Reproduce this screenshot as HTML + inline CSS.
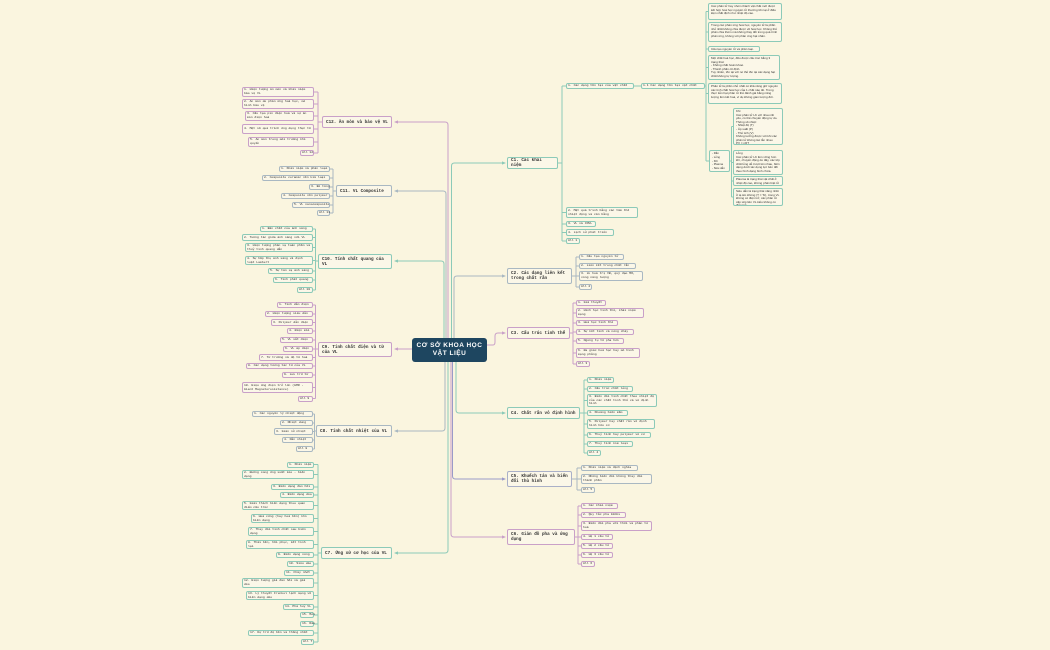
<!DOCTYPE html>
<html><head><meta charset="utf-8">
<style>
html,body{margin:0;padding:0;}
body{width:1050px;height:650px;background:#faf5df;position:relative;overflow:hidden;font-family:"Liberation Mono","DejaVu Sans Mono",monospace;color:#333;}
.n{position:absolute;box-sizing:border-box;border:1px solid #a9b8c2;border-radius:2px;background:#fbf7e8;font-size:3.1px;line-height:3.7px;padding:0 1px;overflow:visible;display:flex;align-items:center;white-space:nowrap;}
.n.w{white-space:normal;overflow:hidden;}
.c{position:absolute;box-sizing:border-box;border:1.5px solid #a9b8c2;border-radius:2px;background:#fbf7e8;font-size:4.3px;line-height:5px;padding:0 3px;font-weight:bold;overflow:hidden;display:flex;align-items:center;}
.t{border-color:#8ccab8}.p{border-color:#c9a0c8}.g{border-color:#a9b8c2}.v{border-color:#aab0c8}
.d{position:absolute;box-sizing:border-box;border:1px solid #8ccab8;border-radius:2px;background:#fbf7e8;font-family:"Liberation Sans",sans-serif;font-size:3px;line-height:3.6px;padding:1px 2px;overflow:hidden;}
#center{position:absolute;left:412px;top:338px;width:75px;height:24px;background:#1e4660;border-radius:3px;color:#fff;font-family:"Liberation Sans",sans-serif;font-weight:bold;font-size:6.5px;line-height:8px;text-align:center;padding-top:4px;box-sizing:border-box;letter-spacing:0.5px;}
svg{position:absolute;left:0;top:0;}
</style></head><body>
<svg width="1050" height="650" fill="none" stroke-width="1">
<g stroke="#c9a0c8"><path d="M448 338 V125 Q448 122 445 122 H397"/></g>
<g stroke="#a9b8c2"><path d="M446 338 V194 Q446 191 443 191 H397"/></g>
<g stroke="#8ccab8"><path d="M444 338 V264 Q444 261 441 261 H397"/></g>
<g stroke="#c9a0c8"><path d="M412 349 H397"/></g>
<g stroke="#a9b8c2"><path d="M445 362 V428 Q445 431 442 431 H397"/></g>
<g stroke="#8ccab8"><path d="M448 362 V550 Q448 553 445 553 H397"/></g>
<g stroke="#8ccab8"><path d="M451.5 338 V166 Q451.5 163 454.5 163 H502"/></g>
<g stroke="#a9b8c2"><path d="M454 338 V279 Q454 276 457 276 H502"/></g>
<g stroke="#c9a0c8"><path d="M487 345 H493 Q495 345 495 342 V336 Q495 333 498 333 H502"/></g>
<g stroke="#8ccab8"><path d="M456 362 V410 Q456 413 459 413 H502"/></g>
<g stroke="#9a9ac8"><path d="M452.5 362 V476 Q452.5 479 455.5 479 H502"/></g>
<g stroke="#c9a0c8"><path d="M451 362 V534 Q451 537 454 537 H502"/></g>
<g stroke="none">
<path d="M394 122 l4 -1.6 v3.2z" fill="#c9a0c8"/>
<path d="M394 191 l4 -1.6 v3.2z" fill="#a9b8c2"/>
<path d="M394 261 l4 -1.6 v3.2z" fill="#8ccab8"/>
<path d="M394 349 l4 -1.6 v3.2z" fill="#c9a0c8"/>
<path d="M394 431 l4 -1.6 v3.2z" fill="#a9b8c2"/>
<path d="M394 553 l4 -1.6 v3.2z" fill="#8ccab8"/>
<path d="M506 163 l-4 -1.6 v3.2z" fill="#8ccab8"/>
<path d="M506 276 l-4 -1.6 v3.2z" fill="#a9b8c2"/>
<path d="M506 333 l-4 -1.6 v3.2z" fill="#c9a0c8"/>
<path d="M506 413 l-4 -1.6 v3.2z" fill="#8ccab8"/>
<path d="M506 479 l-4 -1.6 v3.2z" fill="#9a9ac8"/>
<path d="M506 537 l-4 -1.6 v3.2z" fill="#c9a0c8"/>
</g>
<g stroke="#c9a0c8"><path d="M322 122 H318 M318 92 V153 M318 92 H314 M318 104 H314 M318 116 H314 M318 129 H314 M318 142 H314 M318 153 H314"/></g>
<g stroke="#a9b8c2"><path d="M336 191 H333 M333 169 V213 M333 169 H330 M333 178 H330 M333 187 H330 M333 196 H330 M333 205 H330 M333 213 H330"/></g>
<g stroke="#8ccab8"><path d="M318 261 H315.5 M315.5 229 V290 M315.5 229 H313 M315.5 237.5 H313 M315.5 247.5 H313 M315.5 260.5 H313 M315.5 271 H313 M315.5 280 H313 M315.5 290 H313"/></g>
<g stroke="#c9a0c8"><path d="M318 349 H315.5 M315.5 305 V398.5 M315.5 305 H313 M315.5 314 H313 M315.5 322.5 H313 M315.5 331 H313 M315.5 340 H313 M315.5 349 H313 M315.5 357.5 H313 M315.5 366 H313 M315.5 375 H313 M315.5 387.5 H313 M315.5 398.5 H313"/></g>
<g stroke="#a9b8c2"><path d="M316 431 H314.5 M314.5 414 V449 M314.5 414 H313 M314.5 423 H313 M314.5 431.5 H313 M314.5 440 H313 M314.5 449 H313"/></g>
<g stroke="#8ccab8"><path d="M321 553 H318 M318 464.5 V642 M318 464.5 H314 M318 474.5 H314 M318 487 H314 M318 495 H314 M318 505.5 H314 M318 518.5 H314 M318 531.5 H314 M318 544.5 H314 M318 555 H314 M318 564 H314 M318 573 H314 M318 583 H314 M318 595.5 H314 M318 607 H314 M318 615 H314 M318 624 H314 M318 633 H314 M318 642 H314"/></g>
<g stroke="#8ccab8"><path d="M558 163 H562 M562 86 V241 M562 86 H566 M562 212.5 H566 M562 224 H566 M562 232.5 H566 M562 241 H566 M634 86 H641 M705 86 H706 M706 11.5 V161 M706 11.5 H708 M706 32 H708 M706 49 H708 M706 67.5 H708 M706 93.5 H708 M706 161 H709 M730 161 H731.5 M731.5 126.5 V197 M731.5 126.5 H733 M731.5 162.5 H733 M731.5 181 H733 M731.5 197 H733"/></g>
<g stroke="#a9b8c2"><path d="M572 276 H576 M576 257 V287 M576 257 H579 M576 266 H579 M576 276 H579 M576 287 H579"/></g>
<g stroke="#c9a0c8"><path d="M570 333 H573 M573 303 V364 M573 303 H576 M573 313 H576 M573 323 H576 M573 332 H576 M573 341 H576 M573 353 H576 M573 364 H576"/></g>
<g stroke="#8ccab8"><path d="M580 413 H584 M584 380 V453 M584 380 H587 M584 389 H587 M584 400.5 H587 M584 413 H587 M584 424 H587 M584 435 H587 M584 444 H587 M584 453 H587"/></g>
<g stroke="#a9b8c2"><path d="M572 479 H577 M577 468 V490 M577 468 H581 M577 479 H581 M577 490 H581"/></g>
<g stroke="#c9a0c8"><path d="M575 537 H578 M578 506 V564 M578 506 H581 M578 515 H581 M578 526 H581 M578 537 H581 M578 546 H581 M578 555 H581 M578 564 H581"/></g>
</svg>

<div id="center">CƠ SỞ KHOA HỌC<br>VẬT LIỆU</div>

<div class="c p" style="left:322px;top:116px;width:70px;height:12px;">C12. Ăn mòn và bảo vệ VL</div>
<div class="c g" style="left:336px;top:185px;width:56px;height:12px;">C11. VL Composite</div>
<div class="c t" style="left:318px;top:254px;width:74px;height:15px;">C10. Tính chất quang của VL</div>
<div class="c p" style="left:318px;top:342px;width:74px;height:15px;">C9. Tính chất điện và từ của VL</div>
<div class="c g" style="left:316px;top:425px;width:76px;height:12px;">C8. Tính chất nhiệt của VL</div>
<div class="c t" style="left:321px;top:547px;width:71px;height:12px;">C7. Ứng xử cơ học của VL</div>

<div class="n p w" style="left:242px;top:87px;width:72px;height:10px;">1. Hiện tượng ăn mòn và khái niệm bảo vệ VL</div>
<div class="n p w" style="left:242px;top:99px;width:72px;height:10px;">2. Ăn mòn do phản ứng hoá học, mô hình bảo vệ</div>
<div class="n p w" style="left:245px;top:111px;width:69px;height:10px;">3. Cấu tạo pin điện hoá và sự ăn mòn điện hoá</div>
<div class="n p w" style="left:242px;top:124px;width:72px;height:10px;">4. Một số quá trình ứng dụng thực tế</div>
<div class="n p w" style="left:248px;top:137px;width:66px;height:10px;">5. Ăn mòn trong môi trường khí quyển</div>
<div class="n p" style="left:300px;top:150px;width:14px;height:6px;">All 12</div>
<div class="n g" style="left:279px;top:166px;width:51px;height:6px;">1. Khái niệm và phân loại</div>
<div class="n g" style="left:262px;top:175px;width:68px;height:6px;">2. Composite ceramic nền kim loại</div>
<div class="n g" style="left:309px;top:184px;width:21px;height:6px;">3. Bê tông</div>
<div class="n g" style="left:281px;top:193px;width:49px;height:6px;">4. Composite nền polymer</div>
<div class="n g" style="left:292px;top:202px;width:38px;height:6px;">5. VL nanocomposite</div>
<div class="n g" style="left:317px;top:210px;width:13px;height:6px;">All 11</div>
<div class="n t" style="left:260px;top:226px;width:53px;height:6px;">1. Bản chất của ánh sáng</div>
<div class="n t" style="left:242px;top:234px;width:71px;height:7px;">2. Tương tác giữa ánh sáng với VL</div>
<div class="n t w" style="left:245px;top:243px;width:68px;height:9px;">3. Hiện tượng phản xạ toàn phần và thuỷ tinh quang dẫn</div>
<div class="n t w" style="left:245px;top:256px;width:68px;height:9px;">4. Sự hấp thụ ánh sáng và định luật Lambert</div>
<div class="n t" style="left:268px;top:268px;width:45px;height:6px;">5. Sự tán xạ ánh sáng</div>
<div class="n t" style="left:273px;top:277px;width:40px;height:6px;">6. Tính phát quang</div>
<div class="n t" style="left:297px;top:287px;width:16px;height:6px;">All 10</div>
<div class="n p" style="left:277px;top:302px;width:36px;height:6px;">1. Tính dẫn điện</div>
<div class="n p" style="left:265px;top:311px;width:48px;height:6px;">2. Hiện tượng siêu dẫn</div>
<div class="n p" style="left:271px;top:319px;width:42px;height:7px;">3. Polymer dẫn điện</div>
<div class="n p" style="left:287px;top:328px;width:26px;height:6px;">4. Điện môi</div>
<div class="n p" style="left:280px;top:337px;width:33px;height:6px;">5. VL sắt điện</div>
<div class="n p" style="left:283px;top:346px;width:30px;height:6px;">6. VL áp điện</div>
<div class="n p" style="left:259px;top:354px;width:54px;height:7px;">7. Từ trường và độ từ hoá</div>
<div class="n p" style="left:246px;top:363px;width:67px;height:6px;">8. Các dạng tương tác từ của VL</div>
<div class="n p" style="left:282px;top:372px;width:31px;height:6px;">9. Lưu trữ từ</div>
<div class="n p w" style="left:242px;top:382px;width:71px;height:11px;">10. Hiệu ứng điện trở lớn (GMR - Giant Magnetoresistance)</div>
<div class="n p" style="left:298px;top:396px;width:15px;height:6px;">All 9</div>
<div class="n g" style="left:252px;top:411px;width:61px;height:6px;">1. Các nguyên lý nhiệt động</div>
<div class="n g" style="left:280px;top:420px;width:33px;height:6px;">2. Nhiệt dung</div>
<div class="n g" style="left:274px;top:428px;width:39px;height:7px;">3. Giãn nở nhiệt</div>
<div class="n g" style="left:282px;top:437px;width:31px;height:6px;">4. Dẫn nhiệt</div>
<div class="n g" style="left:296px;top:446px;width:17px;height:6px;">All 8</div>
<div class="n t" style="left:287px;top:462px;width:27px;height:6px;">1. Khái niệm</div>
<div class="n t w" style="left:242px;top:470px;width:72px;height:9px;">2. Đường cong ứng suất kéo - biến dạng</div>
<div class="n t" style="left:271px;top:484px;width:43px;height:6px;">3. Biến dạng đàn hồi</div>
<div class="n t" style="left:280px;top:492px;width:34px;height:6px;">4. Biến dạng dẻo</div>
<div class="n t w" style="left:242px;top:501px;width:72px;height:9px;">5. Giải thích biến dạng theo quan điểm cấu trúc</div>
<div class="n t w" style="left:251px;top:514px;width:63px;height:9px;">6. Hoá cứng (hay hoá bền) khi biến dạng</div>
<div class="n t w" style="left:248px;top:527px;width:66px;height:9px;">7. Thay đổi tính chất sau biến dạng</div>
<div class="n t w" style="left:246px;top:540px;width:68px;height:9px;">8. Thải bền, hồi phục, kết tinh lại</div>
<div class="n t" style="left:276px;top:552px;width:38px;height:6px;">9. Biến dạng nóng</div>
<div class="n t" style="left:287px;top:561px;width:27px;height:6px;">10. Siêu dẻo</div>
<div class="n t" style="left:284px;top:570px;width:30px;height:6px;">11. Chảy nhớt</div>
<div class="n t w" style="left:242px;top:578px;width:72px;height:10px;">12. Hiện tượng giả đàn hồi và giả dẻo</div>
<div class="n t w" style="left:246px;top:591px;width:68px;height:9px;">13. Lý thuyết Frenkel lệch mạng về biến dạng dẻo</div>
<div class="n t" style="left:283px;top:604px;width:31px;height:6px;">14. Phá huỷ VL</div>
<div class="n t" style="left:300px;top:612px;width:14px;height:6px;">15. Mỏi</div>
<div class="n t" style="left:300px;top:621px;width:14px;height:6px;">16. Rão</div>
<div class="n t" style="left:248px;top:630px;width:66px;height:6px;">17. Dự trữ độ bền và thống nhất</div>
<div class="n t" style="left:301px;top:639px;width:13px;height:6px;">All 7</div>

<div class="c t" style="left:507px;top:157px;width:51px;height:12px;">C1. Các khái niệm</div>
<div class="c g" style="left:507px;top:268px;width:65px;height:16px;">C2. Các dạng liên kết trong chất rắn</div>
<div class="c p" style="left:507px;top:327px;width:63px;height:12px;">C3. Cấu trúc tinh thể</div>
<div class="c t" style="left:507px;top:407px;width:73px;height:12px;">C4. Chất rắn vô định hình</div>
<div class="c v" style="left:507px;top:471px;width:65px;height:16px;">C5. Khuếch tán và biến đổi thù hình</div>
<div class="c p" style="left:507px;top:529px;width:68px;height:16px;">C6. Giản đồ pha và ứng dụng</div>

<div class="n t" style="left:566px;top:83px;width:68px;height:6px;">1. Các dạng tồn tại của vật chất</div>
<div class="n t" style="left:641px;top:83px;width:64px;height:6px;">1.1 Các dạng tồn tại vật chất</div>
<div class="n t w" style="left:566px;top:207px;width:72px;height:11px;">2. Mật quá trình bằng các tâm thế nhiệt động và cân bằng</div>
<div class="n t" style="left:566px;top:221px;width:30px;height:6px;">3. VL và CNVL</div>
<div class="n t" style="left:566px;top:229px;width:48px;height:7px;">4. Lịch sử phát triển</div>
<div class="n t" style="left:566px;top:238px;width:14px;height:6px;">All 1</div>
<div class="d" style="left:708px;top:3px;width:74px;height:17px;">Các phân tử hay nhóm thành vật chất mới được kết hợp hoá học nguyên tử thường tồn tại ở điều kiện nhất định như nhiệt độ cao.</div>
<div class="d" style="left:708px;top:22px;width:74px;height:20px;">Trong các phản ứng hoá học, nguyên tử là phần nhỏ nhất không chia được về hoá học. Không thể phân chia thêm mà không thay đổi trong quá trình phản ứng, không với phân ứng hạt nhân.</div>
<div class="d" style="left:708px;top:46px;width:52px;height:6px;">Cấu tạo nguyên tử và phân loại.</div>
<div class="d" style="left:708px;top:55px;width:72px;height:25px;">Một chất hoá học, đều được cấu trúc bằng 3 trạng thái:<br>- Không nhất hoàn khoẻ.<br>- Thành phần cố định.<br>Tuy nhiên, tồn tại với nó thể tồn tại các dạng hạt chất không tự lượng.</div>
<div class="d" style="left:708px;top:83px;width:74px;height:21px;">Phân tử là phần nhỏ nhất có khả năng giữ nguyên các tính chất hoá học của 1 chất nào đó. Trong thực tiễn hạt phân tử thể đánh giá bằng năng lượng liên kết hoá, ví dụ không gian lượng đơi.</div>
<div class="d" style="left:709px;top:150px;width:21px;height:22px;font-size:2.8px;line-height:3.8px;">- Rắn<br>- Lỏng<br>- Khí<br>- Plasma<br>- Siêu dẫn</div>
<div class="d" style="left:733px;top:108px;width:50px;height:37px;">Khí<br>Các phân tử LK với nhau rất yếu, có thể chuyển động tự do. Thông số nhiệt:<br>- Nhiệt độ (T)<br>- Áp suất (P)<br>- Thể tích (V)<br>Không tưởng được với khí các phân tử không tác lẫn nhau<br>PV = nRT</div>
<div class="d" style="left:733px;top:150px;width:50px;height:25px;">Lỏng<br>Các phân tử LK liên vững hơn khí, chuyển động do đây, các lớp chất lỏng dễ trượt lên nhau, biến dạng dưới tác dụng lực bên đối theo hình dạng bình chứa.</div>
<div class="d" style="left:733px;top:176px;width:50px;height:10px;">Plasma là trạng thái vật chất ở nhiệt độ cao, không phân biệt tử thông thường.</div>
<div class="d" style="left:733px;top:188px;width:50px;height:18px;">Siêu dẫn là trạng thái năng nhất ở tạ âm không (T = Tc), trong VL không có điện trở, các phân tử cặp xếp liên VL kiểu không có điện trở.</div>
<div class="n g" style="left:579px;top:254px;width:45px;height:6px;">1. Cấu tạo nguyên tử</div>
<div class="n g" style="left:579px;top:263px;width:57px;height:6px;">2. Liên kết trong chất rắn</div>
<div class="n g w" style="left:579px;top:271px;width:64px;height:10px;">3. Lk hoá trị VB, quỹ đạo MO, vùng năng lượng</div>
<div class="n g" style="left:579px;top:284px;width:13px;height:6px;">All 2</div>
<div class="n p" style="left:576px;top:300px;width:30px;height:6px;">1. Giả thuyết</div>
<div class="n p w" style="left:576px;top:308px;width:68px;height:10px;">2. Hình học tinh thể, khái niệm mạng</div>
<div class="n p" style="left:576px;top:320px;width:42px;height:6px;">3. Hoá học tinh thể</div>
<div class="n p" style="left:576px;top:329px;width:58px;height:6px;">4. Sự kết tinh và nóng chảy</div>
<div class="n p" style="left:576px;top:338px;width:48px;height:6px;">5. Ngưng tụ từ pha hơi</div>
<div class="n p w" style="left:576px;top:348px;width:64px;height:10px;">6. Đa giác hoá học hay mô hình mạng phẳng</div>
<div class="n p" style="left:576px;top:361px;width:14px;height:6px;">All 3</div>
<div class="n t" style="left:587px;top:377px;width:27px;height:6px;">1. Khái niệm</div>
<div class="n t" style="left:587px;top:386px;width:46px;height:6px;">2. Cấu trúc chất lỏng</div>
<div class="n t w" style="left:587px;top:394px;width:70px;height:13px;">3. Biến đổi tính chất theo nhiệt độ của các chất tinh thể và vô định hình</div>
<div class="n t" style="left:587px;top:410px;width:41px;height:6px;">4. Khoảng biến mềm</div>
<div class="n t w" style="left:587px;top:419px;width:68px;height:10px;">5. Polymer hay chất rắn vô định hình hữu cơ</div>
<div class="n t" style="left:587px;top:432px;width:64px;height:6px;">6. Thuỷ tinh hay polymer vô cơ</div>
<div class="n t" style="left:587px;top:441px;width:46px;height:6px;">7. Thuỷ tinh kim loại</div>
<div class="n t" style="left:587px;top:450px;width:14px;height:6px;">All 4</div>
<div class="n g" style="left:581px;top:465px;width:57px;height:6px;">1. Khái niệm và định nghĩa</div>
<div class="n g w" style="left:581px;top:474px;width:71px;height:10px;">2. Những biến đổi không thay đổi thành phần</div>
<div class="n g" style="left:581px;top:487px;width:14px;height:6px;">All 5</div>
<div class="n p" style="left:581px;top:503px;width:37px;height:6px;">1. Các khái niệm</div>
<div class="n p" style="left:581px;top:512px;width:45px;height:6px;">2. Quy tắc pha Gibbs</div>
<div class="n p w" style="left:581px;top:521px;width:71px;height:10px;">3. Biến đổi pha với thời và phân tử hoá</div>
<div class="n p" style="left:581px;top:534px;width:32px;height:6px;">4. Hệ 1 cấu tử</div>
<div class="n p" style="left:581px;top:543px;width:32px;height:6px;">5. Hệ 2 cấu tử</div>
<div class="n p" style="left:581px;top:552px;width:32px;height:6px;">6. Hệ 3 cấu tử</div>
<div class="n p" style="left:581px;top:561px;width:14px;height:6px;">All 6</div>
</body></html>
